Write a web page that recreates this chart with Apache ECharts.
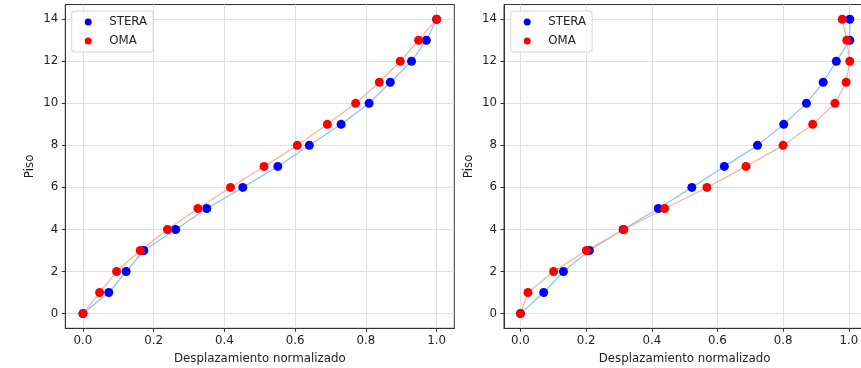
<!DOCTYPE html>
<html><head><meta charset="utf-8">
<script src="https://cdn.jsdelivr.net/npm/echarts@6/dist/echarts.min.js"></script>
<style>html,body{margin:0;padding:0;background:#fff}#c{width:861px;height:368px}</style>
</head><body><div id="c"></div>
<script>
const floors = [0,1,2,3,4,5,6,7,8,9,10,11,12,13,14];
const xTicks = [0,0.2,0.4,0.6,0.8,1.0];
const yTicks = [0,2,4,6,8,10,12,14];
const seriesNames = ['STERA','OMA'];
const xTitle = 'Desplazamiento normalizado';
const yTitle = 'Piso';
// left panel
const leftStera = [0,0.073,0.122,0.172,0.262,0.350,0.452,0.551,0.640,0.730,0.809,0.869,0.929,0.971,1.0];
const leftOma   = [0,0.047,0.095,0.162,0.239,0.325,0.417,0.512,0.606,0.691,0.771,0.838,0.897,0.949,1.0];
// right panel
const rightStera = [0,0.071,0.131,0.210,0.313,0.420,0.522,0.621,0.722,0.802,0.871,0.922,0.962,1.003,1.003];
const rightOma   = [0,0.023,0.101,0.201,0.315,0.439,0.568,0.687,0.800,0.890,0.958,0.992,1.003,0.994,0.980];

const FONT = 'DejaVu Sans';
const FS = 11.8;
const TXT = '#222';
const pts = arr => arr.map((v,i)=>[v, floors[i]]);

function xAxisCfg(g){
  return {type:'value', gridIndex:g, min:-0.05, max:1.05,
    name:xTitle, nameLocation:'middle', nameGap:25,
    nameTextStyle:{fontFamily:FONT,fontSize:FS,color:TXT},
    axisLine:{show:true,onZero:false,lineStyle:{color:'#333',width:1}},
    axisTick:{show:true,length:3.5,inside:false,customValues:xTicks,lineStyle:{color:'#333'}},
    axisLabel:{customValues:xTicks,formatter:v=>Number(v).toFixed(1),margin:7,fontFamily:FONT,fontSize:FS,color:TXT},
    splitLine:{show:true,lineStyle:{color:'#e0e0e0',width:1}}};
}
function yAxisCfg(g){
  return {type:'value', gridIndex:g, min:-0.7, max:14.7,
    name:yTitle, nameLocation:'middle', nameGap:29, nameRotate:90,
    nameTextStyle:{fontFamily:FONT,fontSize:FS,color:TXT},
    axisLine:{show:true,onZero:false,lineStyle:{color:'#333',width:1}},
    axisTick:{show:true,length:3.5,inside:false,customValues:yTicks,lineStyle:{color:'#333'}},
    axisLabel:{customValues:yTicks,formatter:v=>String(Math.round(v)),margin:7,fontFamily:FONT,fontSize:FS,color:TXT},
    splitLine:{show:true,lineStyle:{color:'#e0e0e0',width:1}}};
}
function legendCfg(left){
  return {data:seriesNames, orient:'vertical', left:left, top:11, padding:[5,6,5,13],
    itemWidth:32,itemHeight:7,itemGap:7,icon:'circle',
    backgroundColor:'rgba(255,255,255,0.8)',borderColor:'#d4d4d4',borderWidth:1,borderRadius:3,
    textStyle:{fontFamily:FONT,fontSize:FS,color:TXT}};
}
function lineS(name,data,g,color){
  return {name:name+' línea',type:'line',xAxisIndex:g,yAxisIndex:g,data:pts(data),
    showSymbol:false,symbol:'none',lineStyle:{color:color,width:1.2},z:2,silent:true,animation:false};
}
function dotS(name,data,g,color){
  return {name:name,type:'scatter',xAxisIndex:g,yAxisIndex:g,data:pts(data),
    symbol:'circle',symbolSize:9,itemStyle:{color:color,opacity:1},z:3,animation:false};
}
const chart = echarts.init(document.getElementById('c'),null,{renderer:'canvas'});
chart.setOption({
  animation:false,
  backgroundColor:'#fff',
  grid:[
    {left:65.3,top:4.5,width:389,height:323.8,containLabel:false,outerBoundsMode:'none',show:true,borderColor:'#333',borderWidth:1,backgroundColor:'transparent'},
    {left:504,top:4.5,width:361.2,height:323.8,containLabel:false,outerBoundsMode:'none',show:true,borderColor:'#333',borderWidth:1,backgroundColor:'transparent'}
  ],
  xAxis:[xAxisCfg(0),xAxisCfg(1)],
  yAxis:[yAxisCfg(0),yAxisCfg(1)],
  legend:[legendCfg(71.7),legendCfg(510.7)],
  series:[
    lineS('STERA',leftStera,0,'#88c0fb'),
    lineS('OMA',leftOma,0,'#ffae98'),
    dotS('STERA',leftStera,0,'#0000ff'),
    dotS('OMA',leftOma,0,'#ff0000'),
    lineS('STERA',rightStera,1,'#88c0fb'),
    lineS('OMA',rightOma,1,'#ffae98'),
    dotS('STERA',rightStera,1,'#0000ff'),
    dotS('OMA',rightOma,1,'#ff0000')
  ]
});
</script>
</body></html>
